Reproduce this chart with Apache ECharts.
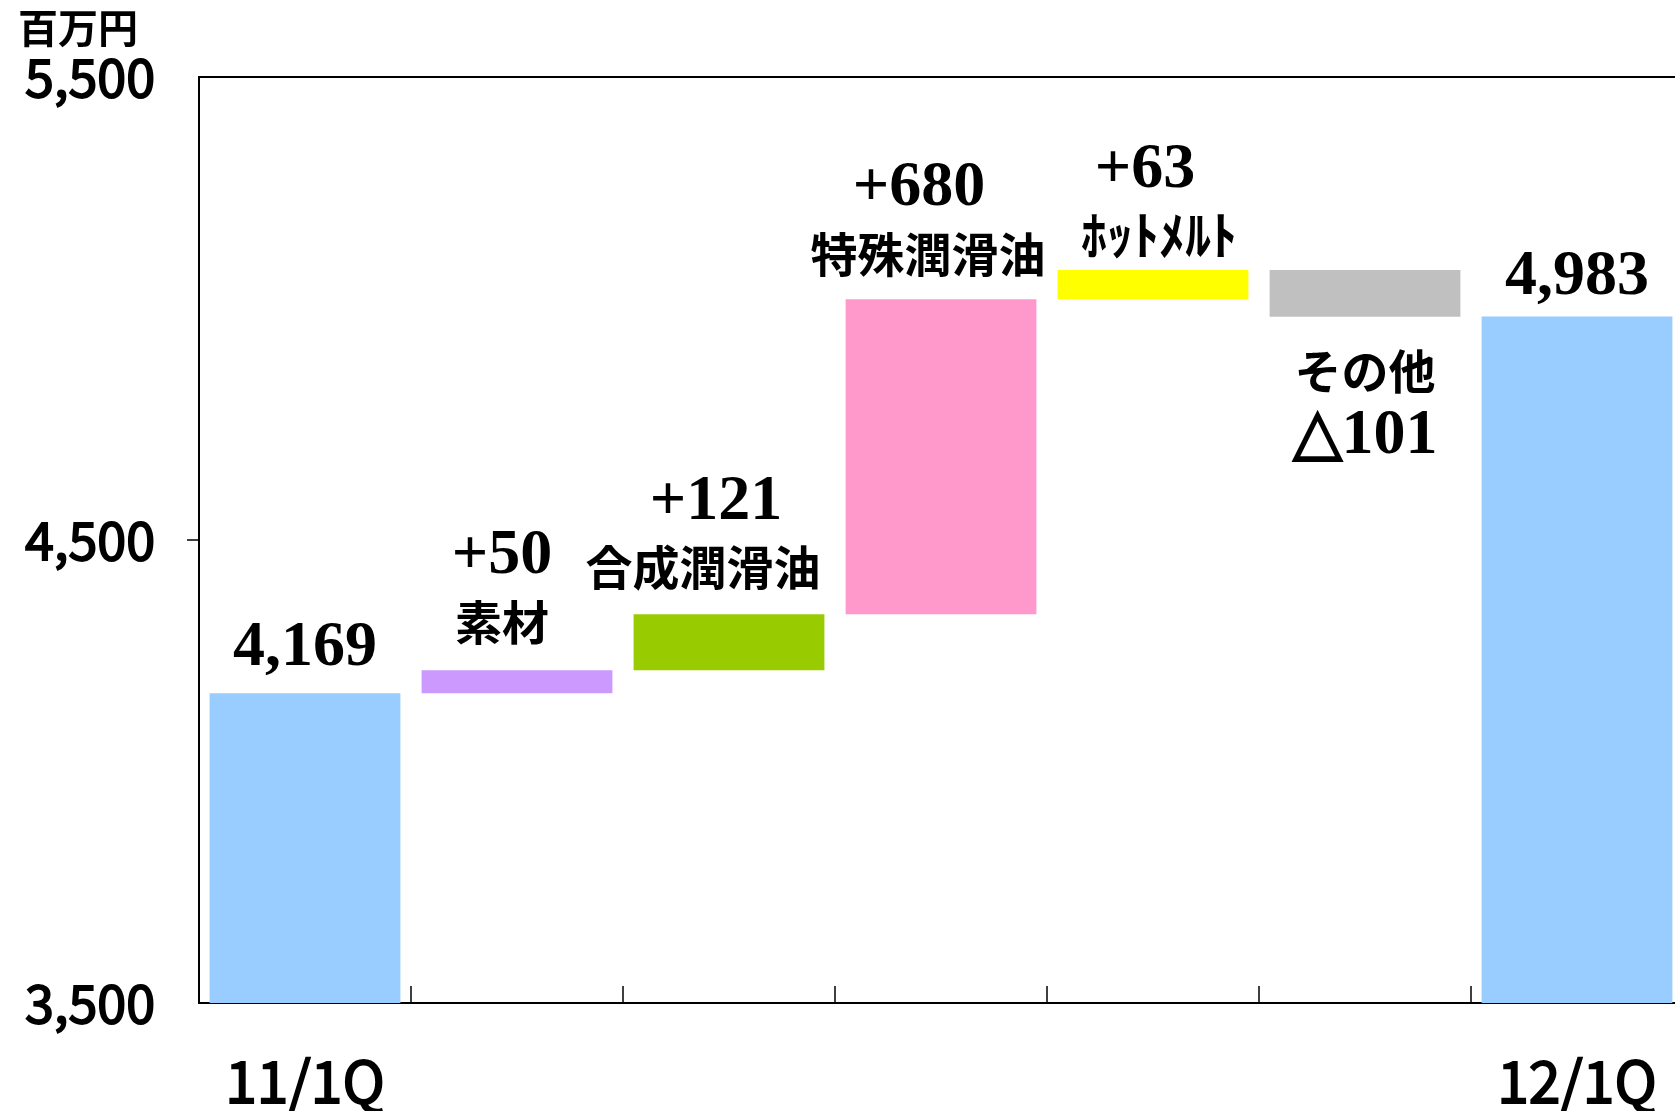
<!DOCTYPE html>
<html>
<head>
<meta charset="utf-8">
<script src="https://cdn.jsdelivr.net/npm/echarts@6/dist/echarts.min.js"></script>
<style>
html,body{margin:0;padding:0;background:#fff;width:1675px;height:1111px;overflow:hidden;}
#wrap{position:relative;width:1675px;height:1111px;overflow:hidden;}
#chart{position:absolute;left:0;top:0;width:1683px;height:1111px;}
</style>
</head>
<body>
<div id="wrap"><div id="chart"></div></div>
<script>
// ---- data ----
const categories = ['11/1Q', '素材', '合成潤滑油', '特殊潤滑油', 'ﾎｯﾄﾒﾙﾄ', 'その他', '12/1Q'];
const xTickLabels = ['11/1Q', '', '', '', '', '', '12/1Q'];
const startTotal = 4169;
const deltas = [50, 121, 680, 63, -101];
const endTotal = 4983;
const valueLabels = ['4,169', '+50', '+121', '+680', '+63', '△101', '4,983'];
const yTicks = [3500, 4500, 5500];
const yTickLabels = ['3,500', '4,500', '5,500'];
const unitLabel = '百万円';
const barColors = ['#99CCFF', '#CC99FF', '#99CC00', '#FF99CC', '#FFFF00', '#C0C0C0', '#99CCFF'];

// ---- build waterfall ----
const yMin = 3500, yMax = 5500;
const base = [], height = [];
base.push(yMin); height.push(startTotal - yMin);
let cum = startTotal;
deltas.forEach(d => {
  if (d >= 0) { base.push(cum); height.push(d); }
  else { base.push(cum + d); height.push(-d); }
  cum += d;
});
base.push(yMin); height.push(endTotal - yMin);

// label styling per bar
const labelPos = ['top', 'top', 'top', 'top', 'top', 'bottom', 'top'];
const labelDist = [12, 16, 14, 13, 2, 22, 6];
const labelOffX = [0, -15, -26, -13, 6, 0, 0];
const valueStyleName = ['v', 'v', 'vR', 'vL', 'vLL', 'v', 'v'];

function labelText(i) {
  const nameStyle = (i === 4) ? 'nk' : 'n';
  const vs = valueStyleName[i];
  if (i === 0 || i === 6) return '{' + vs + '|' + valueLabels[i] + '}';
  if (i === 5) return '{' + nameStyle + '|' + categories[i] + '}\n{' + vs + '|' + valueLabels[i] + '}';
  return '{' + vs + '|' + valueLabels[i] + '}\n{' + nameStyle + '|' + categories[i] + '}';
}

const visibleData = height.map((h, i) => ({
  value: h,
  itemStyle: { color: barColors[i] },
  label: {
    show: true,
    position: labelPos[i],
    distance: labelDist[i],
    offset: [labelOffX[i], 0],
    formatter: labelText(i)
  }
}));

const vFont = { fontFamily: '"Times New Roman", "Liberation Serif", serif', fontWeight: 'bold', fontSize: 64, lineHeight: 65, color: '#000' };

const chart = echarts.init(document.getElementById('chart'));
chart.setOption({
  animation: false,
  backgroundColor: '#fff',
  grid: {
    left: 199, top: 77, right: 0, height: 932,
    show: true, borderColor: '#000', borderWidth: 2, backgroundColor: 'transparent'
  },
  graphic: [{
    type: 'text', left: 18, top: 8,
    style: { text: unitLabel, font: 'bold 40px "Noto Sans CJK JP"', fill: '#000' }
  }],
  xAxis: {
    type: 'category',
    data: categories,
    axisLine: { show: true, lineStyle: { color: '#000', width: 2 } },
    axisTick: { show: true, inside: true, length: 17, interval: 0, lineStyle: { color: '#000', width: 1.5 } },
    axisLabel: {
      interval: 0, margin: 50,
      formatter: (v, i) => xTickLabels[i],
      fontFamily: 'Noto Sans CJK JP', fontSize: 57, fontWeight: 'normal', color: '#000',
      textBorderColor: '#000', textBorderWidth: 1.8
    },
    splitLine: { show: false }
  },
  yAxis: {
    type: 'value', min: yMin, max: yMax, interval: 1000,
    axisLine: { show: true, lineStyle: { color: '#000', width: 2 } },
    axisTick: { show: true, length: 12, customValues: [4500], lineStyle: { color: '#000', width: 1.5 } },
    axisLabel: {
      margin: 44,
      formatter: v => { const k = yTicks.indexOf(v); return k >= 0 ? yTickLabels[k] : ''; },
      fontFamily: 'Noto Sans CJK JP', fontSize: 52, fontWeight: 'normal', color: '#000',
      textBorderColor: '#000', textBorderWidth: 1.8
    },
    splitLine: { show: false }
  },
  series: [
    {
      type: 'bar', stack: 'wf', data: base, barCategoryGap: '10%',
      itemStyle: { color: 'transparent' }, silent: true
    },
    {
      type: 'bar', stack: 'wf', data: visibleData, barCategoryGap: '10%',
      label: {
        rich: {
          v: Object.assign({}, vFont),
          vR: Object.assign({ padding: [0, 0, 0, 26] }, vFont),
          vL: Object.assign({ padding: [0, 18, 0, 0] }, vFont),
          vLL: Object.assign({ padding: [0, 28, 0, 0] }, vFont),
          n: { fontFamily: 'Noto Sans CJK JP', fontWeight: 'bold', fontSize: 47, lineHeight: 65, color: '#000' },
          nk: { fontFamily: 'Noto Sans CJK JP', fontWeight: 'bold', fontSize: 52, lineHeight: 65, color: '#000' }
        }
      }
    }
  ]
});
</script>
</body>
</html>
